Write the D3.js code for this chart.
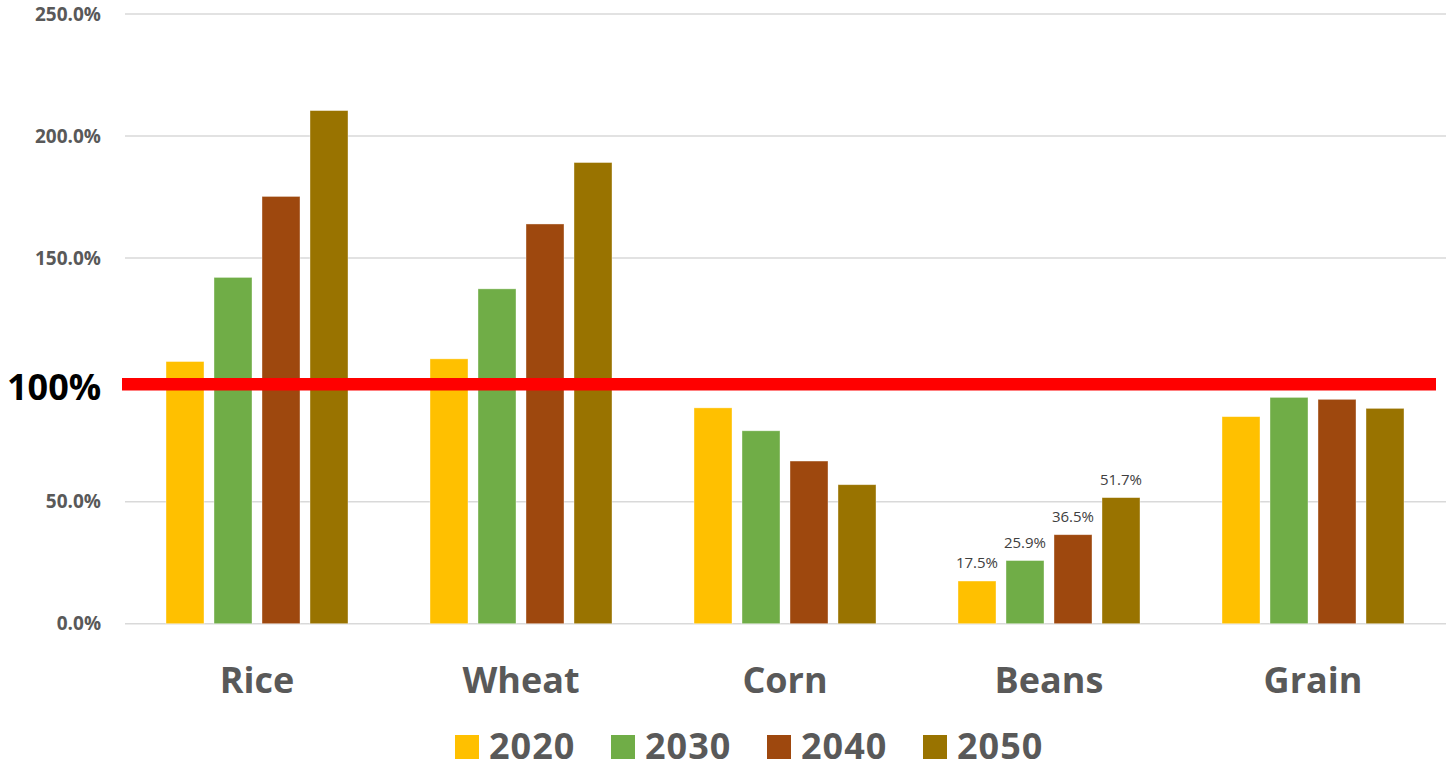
<!DOCTYPE html>
<html>
<head>
<meta charset="utf-8">
<script src="https://cdn.jsdelivr.net/npm/d3@7"></script>
<style>
  body { margin: 0; background: #fff; }
  svg { display: block; font-family: "Open Sans", sans-serif; }
</style>
</head>
<body>
<script>
// data
const categories = ["Rice", "Wheat", "Corn", "Beans", "Grain"];
const years = ["2020", "2030", "2040", "2050"];
const values2020 = [107.5, 108.6, 88.5, 17.5, 84.9];
const values2030 = [142.0, 137.3, 79.1, 25.9, 92.8];
const values2040 = [175.2, 163.9, 66.7, 36.5, 92.0];
const values2050 = [210.4, 189.1, 57.0, 51.7, 88.3];
const yTicks = [0, 50, 150, 200, 250];
const labelledCategory = "Beans";
const referenceLine = 98.2;
const referenceLabel = "100%";

const seriesValues = [values2020, values2030, values2040, values2050];
const colors = ["#FFC000", "#70AD47", "#9E480E", "#997300"];

const width = 1446, height = 769;
const margin = { top: 14, right: 1, bottom: 146, left: 125 };

const svg = d3.select("body")
  .append("svg")
  .attr("width", width)
  .attr("height", height);

const x0 = d3.scaleBand()
  .domain(categories)
  .range([margin.left, width - margin.right]);

const x1 = d3.scaleBand()
  .domain(years)
  .range([41, 223])
  .paddingInner(10 / 48);

const y = d3.scaleLinear()
  .domain([0, 250])
  .range([height - margin.bottom + 0.7, margin.top]);

const color = d3.scaleOrdinal().domain(years).range(colors);

// gridlines
svg.append("g")
  .selectAll("line")
  .data(yTicks)
  .enter()
  .append("line")
  .attr("x1", margin.left)
  .attr("x2", width)
  .attr("y1", d => y(d))
  .attr("y2", d => y(d))
  .attr("stroke", "#d9d9d9")
  .attr("stroke-width", 1.5);

// y labels
svg.append("g")
  .selectAll("text")
  .data(yTicks)
  .enter()
  .append("text")
  .attr("x", 101)
  .attr("y", d => y(d))
  .attr("dy", "0.35em")
  .attr("text-anchor", "end")
  .attr("fill", "#595959")
  .style("font-size", "19px")
  .style("font-weight", "bold")
  .text(d => d3.format(".1f")(d) + "%");

// bars
const rows = categories.map((c, i) => ({
  category: c,
  values: years.map((yr, j) => ({ year: yr, value: seriesValues[j][i] }))
}));

const group = svg.append("g")
  .selectAll("g")
  .data(rows)
  .enter()
  .append("g")
  .attr("transform", d => `translate(${x0(d.category)},0)`);

group.selectAll("rect")
  .data(d => d.values)
  .enter()
  .append("rect")
  .attr("x", d => x1(d.year))
  .attr("width", x1.bandwidth())
  .attr("y", d => y(d.value))
  .attr("height", d => y(0) - y(d.value))
  .attr("fill", d => color(d.year))
  .attr("stroke", "#fff")
  .attr("stroke-opacity", 0.5)
  .attr("stroke-width", 0.75);

// data labels for beans
group.filter(d => d.category === labelledCategory)
  .selectAll(".dlabel")
  .data(d => d.values)
  .enter()
  .append("text")
  .attr("class", "dlabel")
  .attr("x", d => x1(d.year) + x1.bandwidth() / 2)
  .attr("y", d => y(d.value) - 13)
  .attr("text-anchor", "middle")
  .attr("fill", "#404040")
  .style("font-size", "15px")
  .text(d => d3.format(".1f")(d.value) + "%");

// category labels
svg.append("g")
  .selectAll("text")
  .data(categories)
  .enter()
  .append("text")
  .attr("x", d => x0(d) + x0.bandwidth() / 2)
  .attr("y", 693)
  .attr("text-anchor", "middle")
  .attr("fill", "#595959")
  .style("font-size", "36px")
  .style("font-weight", "bold")
  .text(d => d);

// reference line
svg.append("line")
  .attr("x1", 122)
  .attr("x2", 1436)
  .attr("y1", y(referenceLine))
  .attr("y2", y(referenceLine))
  .attr("stroke", "#FF0000")
  .attr("stroke-width", 12.5);

svg.append("text")
  .attr("x", 7)
  .attr("y", 400)
  .attr("fill", "#000")
  .style("font-size", "36px")
  .style("font-weight", "bold")
  .text(referenceLabel);

// legend
const legend = svg.append("g")
  .selectAll("g")
  .data(years)
  .enter()
  .append("g")
  .attr("transform", (d, i) => `translate(${455 + i * 156},0)`);

legend.append("rect")
  .attr("x", 0)
  .attr("y", 735)
  .attr("width", 24)
  .attr("height", 24)
  .attr("fill", color);

legend.append("text")
  .attr("x", 34)
  .attr("y", 759)
  .attr("fill", "#595959")
  .style("font-size", "36px")
  .style("font-weight", "bold")
  .style("letter-spacing", "1px")
  .text(d => d);
</script>
</body>
</html>
